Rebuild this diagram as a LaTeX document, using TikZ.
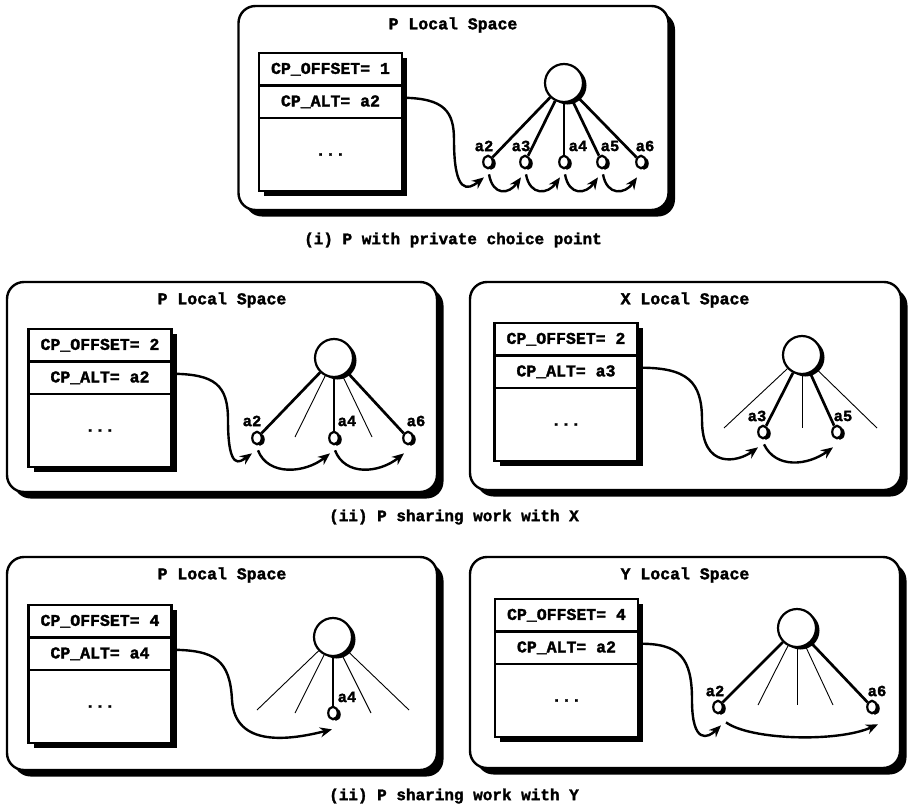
\documentclass[tikz,border=0pt]{standalone}
\usepackage{fontspec}
\setmonofont{Liberation Mono}[BoldFeatures={FakeBold=1.8}]
\usetikzlibrary{shapes.geometric,shadows,arrows.meta,calc}

\begin{document}
\begin{tikzpicture}[x=1pt,y=-1pt,
  every node/.style={font=\ttfamily\bfseries\fontsize{16.5}{18}\selectfont},
  frame/.style={draw, line width=2.4pt, rounded corners=17pt, fill=white, outer sep=0pt,
    drop shadow={shadow xshift=6.5pt, shadow yshift=-6.5pt, fill=black, opacity=1}},
  cell/.style={draw, line width=2.4pt, fill=white, anchor=north, outer sep=0pt, inner sep=0pt,
    minimum width=143pt, minimum height=32.5pt,
    drop shadow={shadow xshift=5pt, shadow yshift=-5pt, fill=black, opacity=1}},
  tallcell/.style={cell, minimum height=73pt},
  root/.style={circle, draw, line width=2.2pt, fill=white, minimum size=38pt, inner sep=0pt,
    drop shadow={shadow xshift=3.5pt, shadow yshift=-2.5pt, fill=black, opacity=1}},
  leaf/.style={ellipse, draw, line width=2.2pt, fill=white, minimum width=9.5pt, minimum height=12.5pt,
    inner sep=0pt, drop shadow={shadow xshift=3pt, shadow yshift=-1.5pt, fill=black, opacity=1}},
  lab/.style={font=\ttfamily\bfseries\fontsize{15.5}{16}\selectfont, inner sep=0pt},
  ttl/.style={inner sep=0pt},
  capt/.style={inner sep=0pt, font=\ttfamily\bfseries\fontsize{16}{18}\selectfont},
  heavy/.style={line width=2.7pt},
  light/.style={line width=0.9pt},
  arr/.style={line width=2.4pt, -{Stealth[length=12pt,width=10pt]}}
]
\useasboundingbox (0,0) rectangle (908,806);

% ---------------- (i) P with private choice point ----------------
\node[frame, minimum width=430pt, minimum height=204pt] (f1) at (453.5,108) {};
\node[ttl] (t1) at (453,25) {P Local Space};
\node[cell] (o1) at (330.5,53) {CP\_OFFSET= 1};
\node[cell] (alt1) at (o1.south) {CP\_ALT= a2};
\node[tallcell] (m1) at (alt1.south) {...};
\node[root] (r1) at (564,83) {};
\node[leaf] (l12) at (488,162) {};
\node[leaf] (l13) at (525,162) {};
\node[leaf] (l14) at (564,162) {};
\node[leaf] (l15) at (602,162) {};
\node[leaf] (l16) at (641,162) {};
\foreach \n in {l12,l13,l14,l15,l16} \draw[heavy] (r1) -- (\n);
\node[lab] (n12) at (484,146) {a2};
\node[lab] (n13) at (521,146) {a3};
\node[lab] (n14) at (578,146) {a4};
\node[lab] (n15) at (610,146) {a5};
\node[lab] (n16) at (645,146) {a6};
\draw[arr] ([yshift=4pt]alt1.east) .. controls (445,98) and (454,112) .. (454,140)
  .. controls (454,195) and (468,190) .. ($(l12.south)+(-4,8)$);
\draw[arr] ($(l12.south)+(1,5)$) .. controls +(4,22) and +(-12,17) .. ($(l13.south)+(-4,8)$);
\draw[arr] ($(l13.south)+(1,5)$) .. controls +(4,22) and +(-12,17) .. ($(l14.south)+(-4,8)$);
\draw[arr] ($(l14.south)+(1,5)$) .. controls +(4,22) and +(-12,17) .. ($(l15.south)+(-4,8)$);
\draw[arr] ($(l15.south)+(1,5)$) .. controls +(4,22) and +(-12,17) .. ($(l16.south)+(-4,8)$);
\node[capt] (cap1) at (453,240) {(i) P with private choice point};

% ---------------- (ii) P sharing work with X : P side ----------------
\node[frame, minimum width=430pt, minimum height=210pt] (f2) at (222,387) {};
\node[ttl] (t2) at (222,300) {P Local Space};
\node[cell] (o2) at (100,329) {CP\_OFFSET= 2};
\node[cell] (alt2) at (o2.south) {CP\_ALT= a2};
\node[tallcell] (m2) at (alt2.south) {...};
\node[root] (r2) at (334,358) {};
\node[leaf] (l22) at (257,438) {};
\node[leaf] (l24) at (334,438) {};
\node[leaf] (l26) at (408,438) {};
\coordinate (e21) at (295,437);
\coordinate (e22) at (372,437);
\foreach \n in {l22,l24,l26} \draw[heavy] (r2) -- (\n);
\foreach \n in {e21,e22} \draw[light] (r2) -- (\n);
\node[lab] (n22) at (252,421) {a2};
\node[lab] (n24) at (347,421) {a4};
\node[lab] (n26) at (416,421) {a6};
\draw[arr] ([yshift=4pt]alt2.east) .. controls (215,374) and (228,385) .. (228,420)
  .. controls (228,472) and (240,462) .. ($(l22.south)+(-5,8)$);
\draw[arr] ($(l22.south)+(1,5)$) .. controls +(10,26) and +(-25,20) .. ($(l24.south)+(-4,8)$);
\draw[arr] ($(l24.south)+(1,5)$) .. controls +(10,26) and +(-25,20) .. ($(l26.south)+(-4,8)$);

% ---------------- (ii) P sharing work with X : X side ----------------
\node[frame, minimum width=431pt, minimum height=208pt] (f3) at (685.5,386) {};
\node[ttl] (t3) at (685,300) {X Local Space};
\node[cell] (o3) at (566,323) {CP\_OFFSET= 2};
\node[cell] (alt3) at (o3.south) {CP\_ALT= a3};
\node[tallcell] (m3) at (alt3.south) {...};
\node[root] (r3) at (802,355) {};
\node[leaf] (l33) at (763,432) {};
\node[leaf] (l35) at (837,432) {};
\coordinate (e31) at (724,428);
\coordinate (e32) at (802,428);
\coordinate (e33) at (877,428);
\foreach \n in {l33,l35} \draw[heavy] (r3) -- (\n);
\foreach \n in {e31,e32,e33} \draw[light] (r3) -- (\n);
\node[lab] (n33) at (757,416) {a3};
\node[lab] (n35) at (843,416) {a5};
\draw[arr] ([yshift=4pt]alt3.east) .. controls (688,367) and (702,382) .. (702,420)
  .. controls (702,470) and (738,462) .. ($(l33.south)+(-5,8)$);
\draw[arr] ($(l33.south)+(1,5)$) .. controls +(12,25) and +(-25,18) .. ($(l35.south)+(-4,8)$);
\node[capt] (cap2) at (454,517) {(ii) P sharing work with X};

% ---------------- (ii) P sharing work with Y : P side ----------------
\node[frame, minimum width=430pt, minimum height=213pt] (f4) at (222,663.5) {};
\node[ttl] (t4) at (222,575) {P Local Space};
\node[cell] (o4) at (100,605) {CP\_OFFSET= 4};
\node[cell] (alt4) at (o4.south) {CP\_ALT= a4};
\node[tallcell] (m4) at (alt4.south) {...};
\node[root] (r4) at (333,637) {};
\node[leaf] (l44) at (333,713) {};
\coordinate (e41) at (257,710);
\coordinate (e42) at (295,713);
\coordinate (e43) at (371,713);
\coordinate (e44) at (409,710);
\draw[heavy] (r4) -- (l44);
\foreach \n in {e41,e42,e43,e44} \draw[light] (r4) -- (\n);
\node[lab] (n44) at (347,697) {a4};
\draw[arr] ([yshift=4pt]alt4.east) .. controls (215,650) and (230,660) .. (232,700)
  .. controls (235,748) and (290,740) .. ($(l44.south)+(-1,9)$);

% ---------------- (ii) P sharing work with Y : Y side ----------------
\node[frame, minimum width=430pt, minimum height=211pt] (f5) at (685,662.5) {};
\node[ttl] (t5) at (685,575) {Y Local Space};
\node[cell] (o5) at (566.5,599) {CP\_OFFSET= 4};
\node[cell] (alt5) at (o5.south) {CP\_ALT= a2};
\node[tallcell] (m5) at (alt5.south) {...};
\node[root] (r5) at (797,628) {};
\node[leaf] (l52) at (718,707) {};
\node[leaf] (l56) at (872,707) {};
\coordinate (e51) at (758,705);
\coordinate (e52) at (797,705);
\coordinate (e53) at (833,705);
\foreach \n in {l52,l56} \draw[heavy] (r5) -- (\n);
\foreach \n in {e51,e52,e53} \draw[light] (r5) -- (\n);
\node[lab] (n52) at (715,691) {a2};
\node[lab] (n56) at (877,691) {a6};
\draw[arr] ([yshift=4pt]alt5.east) .. controls (680,643) and (692,658) .. (692,700)
  .. controls (692,745) and (708,738) .. ($(l52.south)+(3,11)$);
\draw[arr] ($(l52.south)+(8,8)$) .. controls +(25,18) and +(-40,18) .. ($(l56.south)+(6,10)$);
\node[capt] (cap3) at (454,796) {(ii) P sharing work with Y};
\end{tikzpicture}
\end{document}
